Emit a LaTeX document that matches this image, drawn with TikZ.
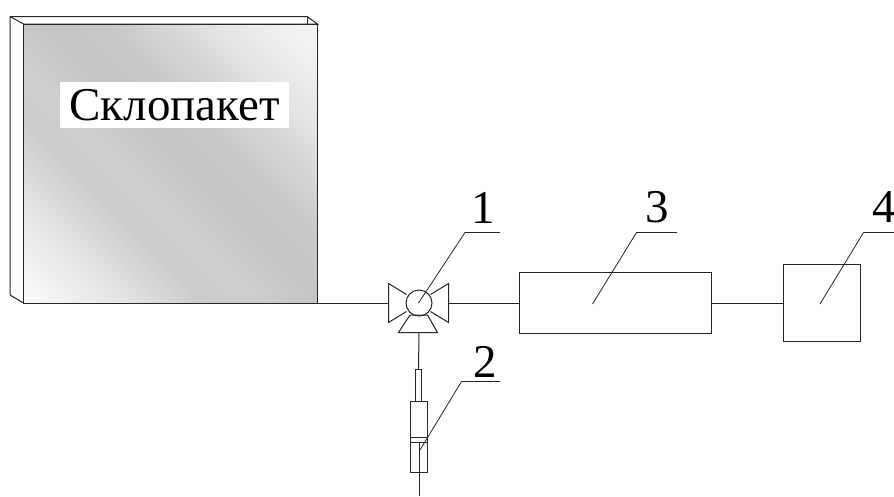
\documentclass[tikz,border=0pt]{standalone}
\usepackage{fontspec}
\setmainfont{Liberation Serif}
\usetikzlibrary{calc, positioning}
\pgfdeclarehorizontalshading{panelshade}{100bp}{color(0bp)=(white); color(17bp)=(white!97!black); color(30bp)=(black!13); color(37bp)=(black!20); color(44bp)=(black!19); color(52bp)=(black!23); color(60bp)=(black!21); color(66bp)=(black!16); color(72bp)=(black!11); color(80bp)=(black!6); color(88bp)=(black!3); color(100bp)=(white)}
\tikzset{
  blockbox/.style={draw, rectangle, inner sep=0, outer sep=0, fill=white},
  numlabel/.style={inner sep=0, font=\fontsize{47}{47}\selectfont},
  leader/.style={line width=0.8pt},
}
\begin{document}
\begin{tikzpicture}[x=1pt, y=-1pt, line width=1pt, draw=black!85]
                  \useasboundingbox (0,0) rectangle (894,496);

                  \draw[fill=white] (10,16.5) -- (307,16.5) -- (317.5,24) -- (23.5,24) -- (23.5,303) -- (10,295) -- cycle;
                  \draw (23.5,24) -- (10,16.5);
                  \draw (307,16.5) -- (307,24);
                  \node[draw, rectangle, inner sep=0, outer sep=0, minimum width=294pt, minimum height=279pt,
                        shading=panelshade, shading angle=45] (panel) at (170.5,163.5) {};
                  \node[fill=white, inner sep=0, minimum width=229pt, minimum height=46pt,
                        font=\fontsize{47}{47}\selectfont] (title) at (174.5,105) {Склопакет};

                  \node[draw, circle, inner sep=0, outer sep=0, minimum size=26pt] (valve) at (419,303) {};
                  \coordinate (valveleft) at (388.5,303);
                  \coordinate (valveright) at (448.5,303);
                  \coordinate (valvebottom) at (419,332.5);
                  \draw (406.5,294.5) -- (388.5,283.5) -- (388.5,322.5) -- (406.5,311.5);
                  \draw (430.5,294.5) -- (448.5,283.5) -- (448.5,322.5) -- (430.5,311.5);
                  \draw (410,315) -- (398.5,332.5) -- (437.5,332.5) -- (427.5,315) -- cycle;

                  \node[blockbox, minimum width=192pt, minimum height=60.5pt] (gauge) at (615.5,303) {};
                  \node[blockbox, minimum width=77.5pt, minimum height=77.5pt] (meter) at (822,303) {};

                  \node[blockbox, minimum width=5.5pt, minimum height=32.5pt] (rod) at (418.5,385.5) {};
                  \node[blockbox, minimum width=17.5pt, minimum height=70.5pt] (body) at (419,437) {};
                  \node[blockbox, minimum width=17.5pt, minimum height=5pt] (piston) at (419,439.5) {};
                  \coordinate (tail) at (419,496);

                  \draw (panel.south east) -- (valveleft);
                  \draw (valveright) -- (gauge.west);
                  \draw (gauge.east) -- (meter.west);
                  \draw (valvebottom) -- (rod.north);
                  \draw (piston.south) -- (tail);

                  \draw[leader] (418.5,303) -- (465,232.5) -- (500,232.5);
                  \draw[leader] (420,450) -- (461.5,381.5) -- (500,381.5);
                  \draw[leader] (592.5,304) -- (636.5,232.5) -- (677,232.5);
                  \draw[leader] (820,304) -- (863.5,232.5) -- (894,232.5);

                  \node[numlabel] (num1) at (483,208) {1};
                  \node[numlabel] (num2) at (485,362) {2};
                  \node[numlabel] (num3) at (657,207) {3};
                  \node[numlabel] (num4) at (884,207) {4};
                \end{tikzpicture}
\end{document}
